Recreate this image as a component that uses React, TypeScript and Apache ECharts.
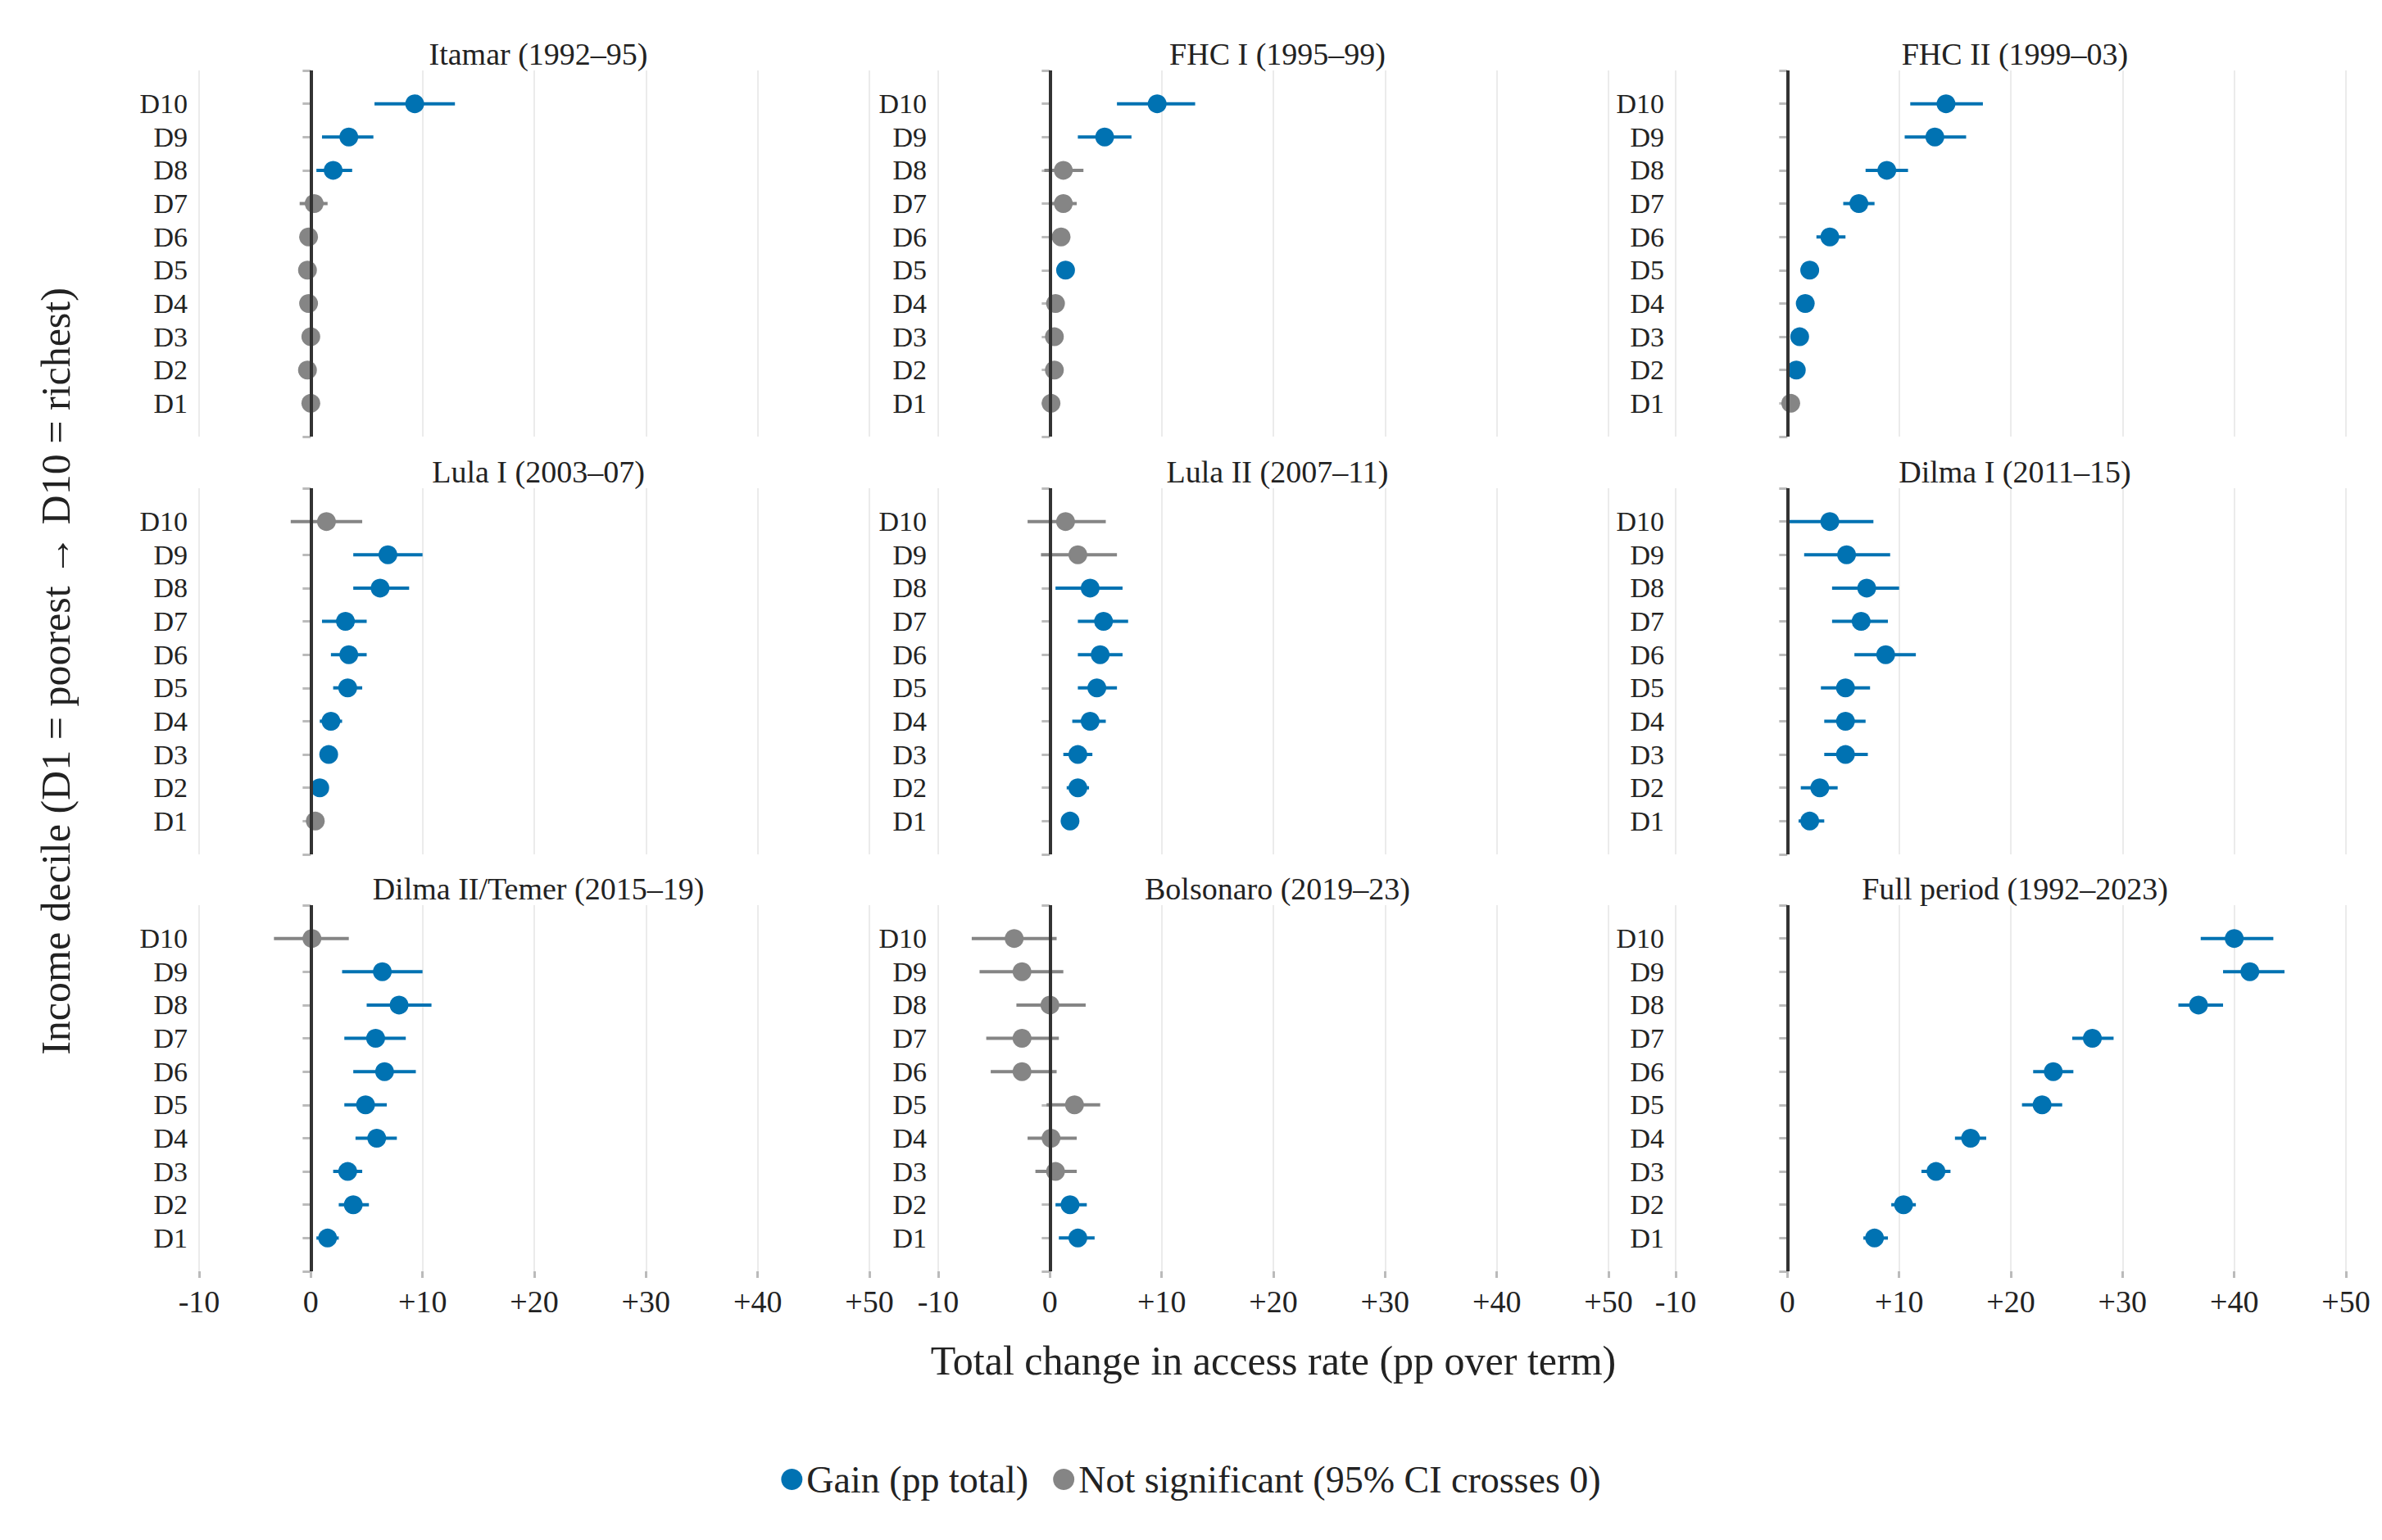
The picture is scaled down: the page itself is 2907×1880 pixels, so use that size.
import * as echarts from 'echarts';
import { useEffect, useRef } from 'react';

const deciles = ['D1', 'D2', 'D3', 'D4', 'D5', 'D6', 'D7', 'D8', 'D9', 'D10'];

const titles = [
  'Itamar (1992–95)', 'FHC I (1995–99)', 'FHC II (1999–03)',
  'Lula I (2003–07)', 'Lula II (2007–11)', 'Dilma I (2011–15)',
  'Dilma II/Temer (2015–19)', 'Bolsonaro (2019–23)', 'Full period (1992–2023)',
];

// D1..D10: point estimate, CI low, CI high (pp)
const itamarEst = [0.0, -0.3, 0.0, -0.2, -0.3, -0.2, 0.3, 2.0, 3.4, 9.3];
const itamarLo = [-0.5, -0.8, -0.5, -0.7, -0.8, -0.7, -1.0, 0.5, 1.0, 5.7];
const itamarHi = [0.5, 0.2, 0.5, 0.3, 0.2, 0.3, 1.5, 3.7, 5.6, 12.9];
const fhc1Est = [0.1, 0.4, 0.4, 0.5, 1.4, 1.0, 1.2, 1.2, 4.9, 9.6];
const fhc1Lo = [-0.4, -0.1, -0.1, -0.1, 0.8, -0.1, -0.1, -0.5, 2.5, 6.0];
const fhc1Hi = [0.6, 0.9, 0.9, 1.1, 2.0, 1.8, 2.4, 3.0, 7.3, 13.0];
const fhc2Est = [0.3, 0.8, 1.1, 1.6, 2.0, 3.8, 6.4, 8.9, 13.2, 14.2];
const fhc2Lo = [-0.2, 0.3, 0.5, 0.9, 1.2, 2.6, 5.0, 7.0, 10.5, 11.0];
const fhc2Hi = [0.8, 1.3, 1.7, 2.3, 2.8, 5.2, 7.8, 10.8, 16.0, 17.5];
const lula1Est = [0.4, 0.8, 1.6, 1.8, 3.3, 3.4, 3.1, 6.2, 6.9, 1.4];
const lula1Lo = [-0.1, 0.2, 0.9, 0.8, 2.0, 1.8, 1.0, 3.8, 3.8, -1.8];
const lula1Hi = [0.9, 1.4, 2.3, 2.8, 4.6, 5.0, 5.0, 8.8, 10.0, 4.6];
const lula2Est = [1.8, 2.5, 2.5, 3.6, 4.2, 4.5, 4.8, 3.6, 2.5, 1.4];
const lula2Lo = [1.0, 1.5, 1.2, 2.0, 2.5, 2.5, 2.5, 0.5, -0.8, -2.0];
const lula2Hi = [2.6, 3.5, 3.8, 5.0, 6.0, 6.5, 7.0, 6.5, 6.0, 5.0];
const dilma1Est = [2.0, 2.9, 5.2, 5.2, 5.2, 8.8, 6.6, 7.1, 5.3, 3.8];
const dilma1Lo = [1.0, 1.2, 3.3, 3.3, 3.0, 6.0, 4.0, 4.0, 1.5, 0.1];
const dilma1Hi = [3.3, 4.5, 7.2, 7.0, 7.4, 11.5, 9.0, 10.0, 9.2, 7.7];
const dilma2Est = [1.5, 3.8, 3.3, 5.9, 4.9, 6.6, 5.8, 7.9, 6.4, 0.1];
const dilma2Lo = [0.5, 2.5, 2.0, 4.0, 3.0, 3.8, 3.0, 5.0, 2.8, -3.3];
const dilma2Hi = [2.5, 5.2, 4.6, 7.7, 6.8, 9.4, 8.5, 10.8, 10.0, 3.4];
const bolsoEst = [2.5, 1.8, 0.5, 0.1, 2.2, -2.5, -2.5, 0.0, -2.5, -3.2];
const bolsoLo = [0.8, 0.5, -1.3, -2.0, -0.3, -5.3, -5.7, -3.0, -6.3, -7.0];
const bolsoHi = [4.0, 3.3, 2.4, 2.4, 4.5, 0.6, 0.8, 3.2, 1.2, 0.6];
const fullEst = [7.8, 10.4, 13.3, 16.4, 22.8, 23.8, 27.3, 36.8, 41.4, 40.0];
const fullLo = [6.8, 9.3, 12.0, 15.0, 21.0, 22.0, 25.5, 35.0, 39.0, 37.0];
const fullHi = [9.0, 11.5, 14.6, 17.8, 24.6, 25.6, 29.2, 39.0, 44.5, 43.5];

const panels = [
  [itamarEst, itamarLo, itamarHi], [fhc1Est, fhc1Lo, fhc1Hi], [fhc2Est, fhc2Lo, fhc2Hi],
  [lula1Est, lula1Lo, lula1Hi], [lula2Est, lula2Lo, lula2Hi], [dilma1Est, dilma1Lo, dilma1Hi],
  [dilma2Est, dilma2Lo, dilma2Hi], [bolsoEst, bolsoLo, bolsoHi], [fullEst, fullLo, fullHi],
];

const BLUE = '#0072B2';
const GREY = '#858585';
const FONT = 'Liberation Serif';

const colLeft = [235, 1137, 2037];
const colWidth = 818;
const rowTop = [78, 588, 1097];
const rowHeight = 447;

export default function App() {
  const ref = useRef<HTMLDivElement | null>(null);

  useEffect(() => {
    if (!ref.current) return undefined;
    const chart = echarts.init(ref.current, undefined, { renderer: 'svg' });

    const grids: any[] = [];
    const xAxes: any[] = [];
    const yAxes: any[] = [];
    const series: any[] = [];
    const titleOpts: any[] = [];

    panels.forEach(([est, lo, hi], i) => {
      const r = Math.floor(i / 3);
      const c = i % 3;
      grids.push({ left: colLeft[c], top: rowTop[r], width: colWidth, height: rowHeight });
      titleOpts.push({
        text: titles[i],
        left: colLeft[c] + colWidth / 2,
        top: rowTop[r] - 44,
        textAlign: 'center',
        textStyle: { fontFamily: FONT, fontSize: 38, fontWeight: 'normal', color: '#222' },
      });
      xAxes.push({
        gridIndex: i,
        type: 'value',
        min: -10,
        max: 50,
        interval: 10,
        axisLine: { show: false },
        axisTick: { show: r === 2, length: 8, lineStyle: { color: '#bbb', width: 3 } },
        axisLabel: {
          show: r === 2,
          fontFamily: FONT,
          fontSize: 38,
          color: '#222',
          margin: 18,
          formatter: (v: number) => (v > 0 ? '+' + v : String(v)),
        },
        splitLine: { show: true, lineStyle: { color: '#ebebeb', width: 2 } },
        ...(i === 7
          ? {
              name: 'Total change in access rate (pp over term)',
              nameLocation: 'middle',
              nameGap: 84,
              nameTextStyle: { fontFamily: FONT, fontSize: 50, color: '#222' },
            }
          : {}),
      });
      yAxes.push({
        gridIndex: i,
        type: 'value',
        min: 0,
        max: 11,
        interval: 1,
        axisLine: { show: false },
        axisTick: { show: true, length: 10, lineStyle: { color: '#bbb', width: 3 } },
        axisLabel: {
          fontFamily: FONT,
          fontSize: 34,
          color: '#222',
          margin: 14,
          formatter: (v: number) => (v >= 1 && v <= 10 ? deciles[v - 1] : ''),
        },
        splitLine: { show: false },
        ...(i === 3
          ? {
              name: 'Income decile (D1 = poorest → D10 = richest)',
              nameLocation: 'middle',
              nameGap: 150,
              nameTextStyle: { fontFamily: FONT, fontSize: 50, color: '#222' },
            }
          : {}),
      });

      const pts = est.map((v, k) => ({ v, lo: lo[k], hi: hi[k], y: k + 1, sig: lo[k] > 0 }));
      series.push({
        type: 'custom',
        xAxisIndex: i,
        yAxisIndex: i,
        silent: true,
        data: pts.map((p) => [p.lo, p.hi, p.y, p.sig ? 1 : 0]),
        renderItem: (_params: any, api: any) => {
          const a = api.coord([api.value(0), api.value(2)]);
          const b = api.coord([api.value(1), api.value(2)]);
          return {
            type: 'line',
            shape: { x1: a[0], y1: a[1], x2: b[0], y2: b[1] },
            style: { stroke: api.value(3) ? BLUE : GREY, lineWidth: 4 },
          };
        },
        markLine: {
          silent: true,
          symbol: 'none',
          label: { show: false },
          data: [
            { xAxis: 0, lineStyle: { color: '#333', width: 4, type: 'solid' } },
            [
              { coord: [-11.5, 5.5], lineStyle: { color: '#aaa', width: 2, type: 'dotted' } },
              { coord: [52.5, 5.5] },
            ],
          ],
        },
      });
      series.push({
        type: 'scatter',
        name: 'Gain (pp total)',
        xAxisIndex: i,
        yAxisIndex: i,
        symbolSize: 23,
        itemStyle: { color: BLUE, opacity: 1 },
        data: pts.filter((p) => p.sig).map((p) => [p.v, p.y]),
      });
      series.push({
        type: 'scatter',
        name: 'Not significant (95% CI crosses 0)',
        xAxisIndex: i,
        yAxisIndex: i,
        symbolSize: 23,
        itemStyle: { color: GREY, opacity: 1 },
        data: pts.filter((p) => !p.sig).map((p) => [p.v, p.y]),
      });
    });

    chart.setOption({
      animation: false,
      backgroundColor: '#fff',
      title: titleOpts,
      grid: grids,
      xAxis: xAxes,
      yAxis: yAxes,
      series,
      legend: {
        data: ['Gain (pp total)', 'Not significant (95% CI crosses 0)'],
        bottom: 38,
        left: 'center',
        icon: 'circle',
        itemWidth: 26,
        itemHeight: 26,
        itemGap: 30,
        textStyle: { fontFamily: FONT, fontSize: 46, color: '#222' },
      },
    });

    return () => chart.dispose();
  }, []);

  return <div ref={ref} style={{ width: 2891, height: 1864 }} />;
}
